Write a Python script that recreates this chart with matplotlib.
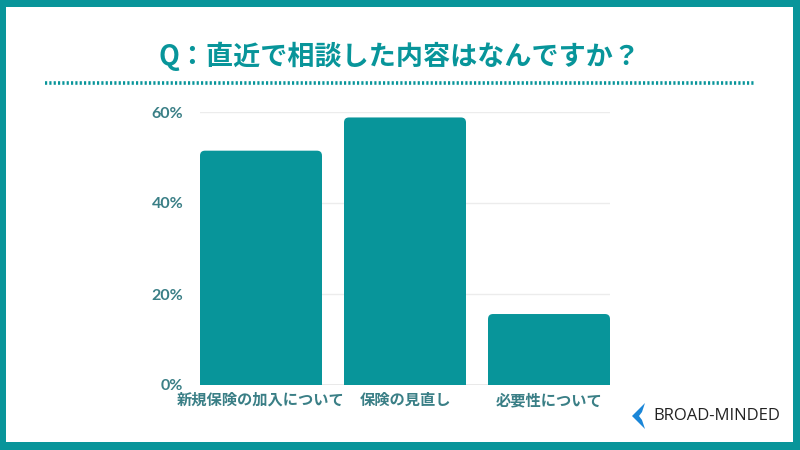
import matplotlib.pyplot as plt
from matplotlib.patches import Rectangle, Polygon, FancyBboxPatch

plt.rcParams['font.family'] = ['Noto Sans CJK JP', 'DejaVu Sans']

categories = ['新規保険の加入について', '保険の見直し', '必要性について']
values = [51.5, 58.8, 15.6]
yticks = [0, 20, 40, 60]

teal = '#08959a'
label_col = '#3a7f86'

fig = plt.figure(figsize=(8, 4.5), dpi=100)
fig.patch.set_facecolor('white')

# pixel helpers
W, H = 800, 450
def fx(px):
    return px / W
def fy(py):
    return 1 - py / H

# teal frame
fig.patches.append(Rectangle((0, 0), 1, 1, transform=fig.transFigure,
                             facecolor=teal, edgecolor='none', zorder=-2))
fig.patches.append(Rectangle((fx(6), fy(442)), fx(793) - fx(6), fy(7) - fy(442),
                             transform=fig.transFigure, facecolor='white',
                             edgecolor='none', zorder=-1))

fig.text(0.5, fy(56), 'Q：直近で相談した内容はなんですか？', ha='center', va='center',
         fontsize=19.5, fontweight='bold', color=teal)
fig.add_artist(plt.Line2D([fx(45), fx(755)], [fy(83), fy(83)], transform=fig.transFigure,
                          color=teal, lw=2.6, linestyle=(0, (0.6, 0.6))))

ax = fig.add_axes([fx(200), fy(385), fx(610) - fx(200), fy(112) - fy(385)])
x = list(range(len(categories)))
w = 0.847
xlo, xhi = -w / 2, len(categories) - 1 + w / 2
ax.set_xlim(xlo, xhi)
ax.set_ylim(0, 60)

# bars with rounded top corners
ax_w_px, ax_h_px = 410, 273
x_per_px = (xhi - xlo) / ax_w_px
y_per_px = 60 / ax_h_px
r_px = 5
for xi, v in zip(x, values):
    ax.add_patch(FancyBboxPatch((xi - w / 2, 0), w, v,
                                boxstyle=f'round,pad=0,rounding_size={r_px * x_per_px}',
                                mutation_aspect=y_per_px / x_per_px,
                                facecolor=teal, edgecolor='none', zorder=2))
    ax.add_patch(Rectangle((xi - w / 2, 0), w, v - r_px * y_per_px,
                           facecolor=teal, edgecolor='none', zorder=2))

ax.set_yticks(yticks)
ax.set_yticklabels([f'{t}%' for t in yticks])
ax.set_xticks(x)
ax.set_xticklabels(categories)
ax.tick_params(axis='both', length=0, colors=label_col)
ax.tick_params(axis='y', pad=12, labelsize=11.5)
ax.tick_params(axis='x', pad=5, labelsize=11)
for lbl in ax.get_yticklabels():
    lbl.set_fontweight('bold')
    lbl.set_family(['Lato', 'DejaVu Sans'])
for lbl in ax.get_xticklabels():
    lbl.set_fontweight('bold')
ax.grid(axis='y', color='#ececec', lw=1, zorder=0)
ax.set_axisbelow(True)
for s in ax.spines.values():
    s.set_visible(False)
ax.axhline(0, color='#e6e6e6', lw=1.2, zorder=1)
ax.set_facecolor('none')

# logo
blue = '#1a86d8'
fig.patches.append(Polygon([(fx(645), fy(403)), (fx(632), fy(416)), (fx(645), fy(429)),
                            (fx(642), fy(420)), (fx(639), fy(416)), (fx(642), fy(412))],
                           closed=True, transform=fig.transFigure,
                           facecolor=blue, edgecolor='none'))
fig.text(fx(653), fy(416), 'BROAD-MINDED', ha='left', va='center', fontsize=12,
         color='#222222', family=['Open Sans', 'DejaVu Sans'])

fig.savefig('out.png', dpi=100)
